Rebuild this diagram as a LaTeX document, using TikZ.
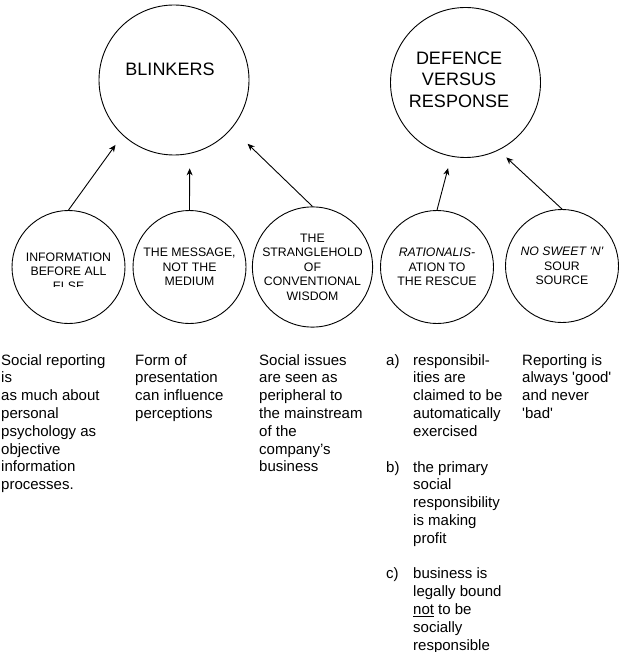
\documentclass[tikz,border=0pt]{standalone}
\usepackage{fontspec}
\setmainfont{Liberation Sans}
\usepackage{tikz}
\usetikzlibrary{arrows.meta}

\begin{document}
\begin{tikzpicture}[x=1pt, y=-1pt,
        bigcircle/.style={circle, draw, line width=0.9pt, minimum size=150pt, inner sep=0pt},
        bigtext/.style={align=center, inner sep=0pt, font=\fontsize{18}{21.5}\selectfont},
        circletext/.style={align=center, inner sep=0pt, font=\fontsize{12.3}{14.5}\selectfont},
        smallcircle/.style={circletext, circle, draw, line width=0.9pt, minimum size=113pt},
        para/.style={anchor=north west, align=left, inner sep=0pt, font=\fontsize{15}{17.8}\selectfont},
        pointer/.style={-{Stealth[length=7pt, width=6pt]}, line width=0.9pt}]
        \useasboundingbox (0, 0) rectangle (619, 652);

        \node[bigcircle] (blinkers) at (174, 80) {};
        \node[bigtext] (blinkerstext) at (170, 69) {BLINKERS};
        \node[bigcircle] (defence) at (465.5, 82.5) {};
        \node[bigtext] (defencetext) at (459, 79.5) {DEFENCE\\VERSUS\\RESPONSE};

        \node[smallcircle] (info) at (68.5, 267) {};
        \begin{scope}
                \clip (0, 0) rectangle (619, 286.5);
                \node[circletext] (infotext) at (68.5, 271.5) {INFORMATION\\BEFORE ALL\\ELSE};
        \end{scope}
        \node[smallcircle] (message) at (189.5, 267) {THE MESSAGE,\\NOT THE\\MEDIUM};
        \node[smallcircle] (strangle) at (312.5, 267) {THE\\STRANGLEHOLD\\OF\\CONVENTIONAL\\WISDOM};
        \node[smallcircle] (rescue) at (437, 267) {\textit{RATIONALIS-}\\ATION TO\\THE RESCUE};
        \node[smallcircle] (sweet) at (562, 266) {\textit{NO SWEET \textquotesingle N\textquotesingle}\\SOUR\\SOURCE};

        \draw[pointer, shorten >=12pt] (info.north) -- (blinkers.227);
        \draw[pointer, shorten >=14.6pt] (message.north) -- (blinkers.282);
        \draw[pointer, shorten >=22pt] (strangle.north) -- (blinkers.320);
        \draw[pointer, shorten >=12pt] (rescue.north) -- (defence.259);
        \draw[pointer, shorten >=10.5pt] (sweet.north) -- (defence.296);

        \node[para] (infopara) at (1, 354) {Social reporting\\is\\as much about\\personal\\psychology as\\objective\\information\\processes.};
        \node[para] (messagepara) at (135, 354) {Form of\\presentation\\can influence\\perceptions};
        \node[para] (stranglepara) at (259, 354) {Social issues\\are seen as\\peripheral to\\the mainstream\\of the\\company's\\business};
        \node[para] (itema) at (386, 354) {a)};
        \node[para] (rescuea) at (413, 354) {responsibil-\\ities are\\claimed to be\\automatically\\exercised};
        \node[para] (itemb) at (386, 461) {b)};
        \node[para] (rescueb) at (413, 461) {the primary\\social\\responsibility\\is making\\profit};
        \node[para] (itemc) at (386, 567.8) {c)};
        \node[para] (rescuec) at (413, 567.8) {business is\\legally bound\\\underline{not} to be\\socially\\responsible};
        \node[para] (sweetpara) at (522, 354) {Reporting is\\always \textquotesingle good\textquotesingle\\and never\\\textquotesingle bad\textquotesingle};
    \end{tikzpicture}
\end{document}
